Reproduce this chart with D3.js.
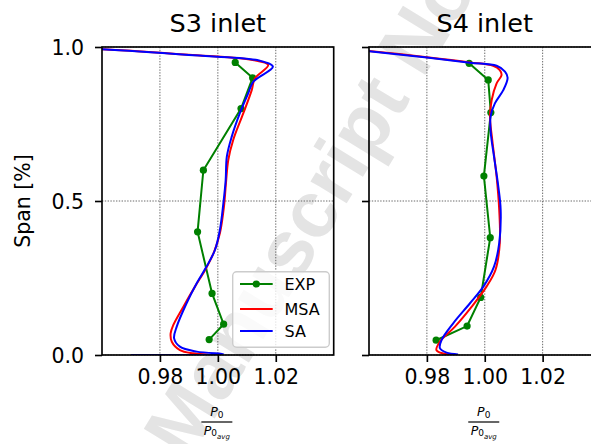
<!DOCTYPE html>
<html>
<head>
<meta charset="utf-8">
<script src="https://cdn.jsdelivr.net/npm/d3@7"></script>
<style>
  html, body { margin: 0; padding: 0; background: #fff; }
  svg { display: block; font-family: "DejaVu Sans", sans-serif; }
</style>
</head>
<body>
<svg id="chart" width="591" height="444"></svg>
<script>
// ---- data -------------------------------------------------------------
const panelTitles = ["S3 inlet", "S4 inlet"];
const xTickValues = [0.98, 1.00, 1.02];
const yTickValues = [0.0, 0.5, 1.0];
const legendLabels = ["EXP", "MSA", "SA"];

// S3 inlet: experiment (P0/P0avg, span)
const s3ExpP0   = [1.006, 1.012, 1.008, 0.995, 0.993, 0.998, 1.002, 0.997];
const s3ExpSpan = [0.95, 0.90, 0.80, 0.60, 0.40, 0.20, 0.10, 0.05];
// S3 inlet: MSA
const s3MsaP0   = [0.940, 0.960, 0.990, 1.012, 1.0174, 1.0128, 1.0117, 1.0088, 1.0053, 1.0036, 1.0028, 1.0021, 1.0007, 0.9987, 0.9956, 0.9921, 0.9881, 0.9846, 0.9837, 0.9841, 0.9869, 0.9915, 0.997, 0.970];
const s3MsaSpan = [1.000, 0.993, 0.975, 0.958, 0.9416, 0.898, 0.860, 0.785, 0.698, 0.633, 0.558, 0.481, 0.395, 0.335, 0.276, 0.222, 0.157, 0.097, 0.070, 0.043, 0.016, 0.0055, 0.001, 0.000];
// S3 inlet: SA
const s3SaP0    = [0.940, 0.960, 0.990, 1.0145, 1.0190, 1.0122, 1.0105, 1.0076, 1.0048, 1.0031, 1.0027, 1.0019, 1.0007, 0.9990, 0.9961, 0.9927, 0.9892, 0.9858, 0.9849, 0.9869, 0.9927, 1.0019, 0.970];
const s3SaSpan  = [1.000, 0.9925, 0.974, 0.9556, 0.936, 0.887, 0.850, 0.785, 0.709, 0.644, 0.568, 0.4925, 0.406, 0.341, 0.287, 0.233, 0.168, 0.092, 0.054, 0.027, 0.011, 0.003, 0.000];

// S4 inlet: experiment
const s4ExpP0   = [0.9946, 1.0012, 1.0021, 0.9997, 1.0019, 0.9986, 0.9939, 0.9832];
const s4ExpSpan = [0.947, 0.893, 0.787, 0.581, 0.381, 0.187, 0.094, 0.048];
// S4 inlet: MSA
const s4MsaP0   = [0.950, 0.960, 0.980, 0.9949, 1.0029, 1.0052, 1.0058, 1.0041, 1.0024, 1.0018, 1.0026, 1.0041, 1.0050, 1.0052, 1.0037, 1.0006, 0.9955, 0.9897, 0.9845, 0.9833, 0.9856, 0.9900];
const s4MsaSpan = [0.996, 0.987, 0.967, 0.950, 0.939, 0.925, 0.909, 0.882, 0.828, 0.774, 0.698, 0.579, 0.471, 0.363, 0.276, 0.222, 0.157, 0.092, 0.043, 0.016, 0.005, 0.001];
// S4 inlet: SA
const s4SaP0    = [0.950, 0.960, 0.980, 0.9949, 1.0041, 1.0070, 1.0079, 1.0064, 1.0035, 1.0020, 1.0021, 1.0032, 1.0047, 1.0055, 1.0050, 1.0032, 0.9995, 0.9949, 0.9891, 0.9851, 0.9845, 0.9868, 0.9908];
const s4SaSpan  = [0.996, 0.986, 0.966, 0.949, 0.939, 0.920, 0.900, 0.860, 0.817, 0.774, 0.720, 0.644, 0.546, 0.471, 0.363, 0.287, 0.222, 0.168, 0.103, 0.049, 0.022, 0.0075, 0.002];

// ---- layout -----------------------------------------------------------
const svg = d3.select("#chart");
const yTop = 47, yBottom = 355;
const panels = [
  { title: panelTitles[0], x0: 102, x1: 333.7, showYLabels: true,
    exp: [s3ExpP0, s3ExpSpan], msa: [s3MsaP0, s3MsaSpan], sa: [s3SaP0, s3SaSpan], legend: true },
  { title: panelTitles[1], x0: 369, x1: 600.5, showYLabels: false,
    exp: [s4ExpP0, s4ExpSpan], msa: [s4MsaP0, s4MsaSpan], sa: [s4SaP0, s4SaSpan], legend: false }
];
const colors = { exp: "#008000", msa: "#ff0000", sa: "#0000ff" };
const zip = (xs, ys) => xs.map((x, i) => [x, ys[i]]);

// background stamp across the figure
svg.append("text")
  .attr("transform", "translate(188,462) rotate(-58.5)")
  .attr("font-family", "'Liberation Sans', Arial, sans-serif")
  .attr("font-weight", "bold")
  .attr("font-size", 80)
  .attr("fill", "#e4e4e4")
  .text("Manuscript Not Copyedited");

const y = d3.scaleLinear().domain([0, 1]).range([yBottom, yTop]);

panels.forEach((p, pi) => {
  const x = d3.scaleLinear().domain([0.96, 1.04]).range([p.x0, p.x1]);
  const g = svg.append("g");

  const clipId = "clip" + pi;
  svg.append("clipPath").attr("id", clipId)
    .append("rect").attr("x", p.x0).attr("y", yTop)
    .attr("width", p.x1 - p.x0).attr("height", yBottom - yTop);

  // grid
  const grid = g.append("g")
    .attr("stroke", "#5a5a5a").attr("stroke-width", 0.9)
    .attr("stroke-dasharray", "1.4,1.4");
  grid.selectAll("line.gx").data(xTickValues).join("line")
    .attr("x1", d => x(d)).attr("x2", d => x(d))
    .attr("y1", yTop).attr("y2", yBottom);
  grid.selectAll("line.gy").data(yTickValues).join("line")
    .attr("x1", p.x0).attr("x2", p.x1)
    .attr("y1", d => y(d)).attr("y2", d => y(d));

  // data
  const plot = g.append("g").attr("clip-path", `url(#${clipId})`);
  const line = d3.line().x(d => x(d[0])).y(d => y(d[1]));
  const smooth = d3.line().x(d => x(d[0])).y(d => y(d[1]))
    .curve(d3.curveCatmullRom.alpha(0.5));

  const expPts = zip(p.exp[0], p.exp[1]);
  plot.append("path").datum(expPts).attr("d", line)
    .attr("fill", "none").attr("stroke", colors.exp).attr("stroke-width", 2);
  plot.selectAll("circle.exp").data(expPts).join("circle")
    .attr("cx", d => x(d[0])).attr("cy", d => y(d[1])).attr("r", 3.6)
    .attr("fill", colors.exp);
  plot.append("path").datum(zip(p.msa[0], p.msa[1])).attr("d", smooth)
    .attr("fill", "none").attr("stroke", colors.msa).attr("stroke-width", 2);
  plot.append("path").datum(zip(p.sa[0], p.sa[1])).attr("d", smooth)
    .attr("fill", "none").attr("stroke", colors.sa).attr("stroke-width", 2);

  // axes
  const xAxis = d3.axisBottom(x).tickValues(xTickValues)
    .tickFormat(d3.format(".2f")).tickSize(7).tickPadding(7);
  const yAxis = d3.axisLeft(y).tickValues(yTickValues)
    .tickFormat(p.showYLabels ? d3.format(".1f") : () => "")
    .tickSize(7).tickPadding(11);

  const gx = g.append("g").attr("transform", `translate(0,${yBottom})`).call(xAxis);
  const gy = g.append("g").attr("transform", `translate(${p.x0},0)`).call(yAxis);
  [gx, gy].forEach(a => {
    a.select(".domain").remove();
    a.selectAll(".tick line").attr("stroke", "#000").attr("stroke-width", 1.65);
    a.selectAll(".tick text").attr("fill", "#000")
      .attr("font-family", "'DejaVu Sans', sans-serif").attr("font-size", 20.5);
  });
  gy.selectAll(".tick text").attr("dy", "0.36em");

  // spines
  g.append("rect").attr("x", p.x0).attr("y", yTop)
    .attr("width", p.x1 - p.x0).attr("height", yBottom - yTop)
    .attr("fill", "none").attr("stroke", "#000").attr("stroke-width", 1.65);

  // title
  const cx = (p.x0 + p.x1) / 2;
  g.append("text").attr("x", cx).attr("y", 31.5).attr("text-anchor", "middle")
    .attr("font-size", 25.5).attr("fill", "#000").text(p.title);

  // x label: P0 / P0avg
  const xl = g.append("g").attr("transform", `translate(${cx - 1},0)`);
  const num = xl.append("text").attr("y", 416).attr("text-anchor", "middle")
    .attr("font-size", 12.5).attr("fill", "#000");
  num.append("tspan").attr("font-style", "italic").text("P");
  num.append("tspan").attr("font-size", 9).attr("dy", 2).text("0");
  xl.append("line").attr("x1", -15.5).attr("x2", 15.5)
    .attr("y1", 422).attr("y2", 422).attr("stroke", "#000").attr("stroke-width", 1.2);
  const den = xl.append("text").attr("y", 434.5).attr("text-anchor", "middle")
    .attr("font-size", 12.5).attr("fill", "#000");
  den.append("tspan").attr("font-style", "italic").text("P");
  den.append("tspan").attr("font-size", 9).attr("dy", 1.5).text("0");
  den.append("tspan").attr("font-size", 7).attr("font-style", "italic").attr("dy", 3).text("avg");

  // legend
  if (p.legend) {
    const lg = g.append("g");
    lg.append("rect").attr("x", 232.7).attr("y", 271.7)
      .attr("width", 96.6).attr("height", 75.6).attr("rx", 4)
      .attr("fill", "#fff").attr("fill-opacity", 0.8)
      .attr("stroke", "#cccccc").attr("stroke-width", 1.4);
    const keys = ["exp", "msa", "sa"];
    const rowY = [284, 309, 331];
    legendLabels.forEach((lab, i) => {
      const ry = rowY[i];
      lg.append("line").attr("x1", 240).attr("x2", 272.7)
        .attr("y1", ry).attr("y2", ry)
        .attr("stroke", colors[keys[i]]).attr("stroke-width", 2);
      if (i === 0) {
        lg.append("circle").attr("cx", 256.3).attr("cy", ry).attr("r", 3.6)
          .attr("fill", colors.exp);
      }
      lg.append("text").attr("x", 284.5).attr("y", ry + 5.8)
        .attr("font-size", 16).attr("fill", "#000").text(lab);
    });
  }
});

// y label
svg.append("text")
  .attr("transform", `translate(30,${(yTop + yBottom) / 2}) rotate(-90)`)
  .attr("text-anchor", "middle").attr("font-size", 20.5).attr("fill", "#000")
  .text("Span [%]");
</script>
</body>
</html>
